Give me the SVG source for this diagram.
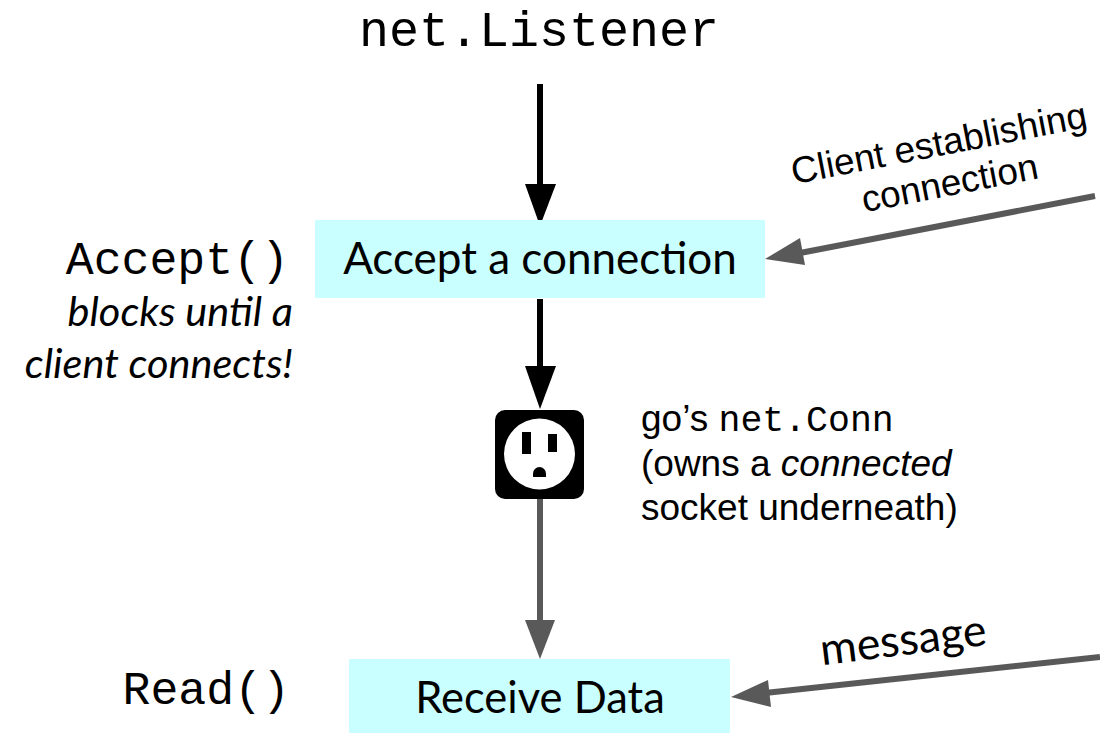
<svg xmlns="http://www.w3.org/2000/svg" width="1100" height="733" viewBox="0 0 1100 733">
<style>
.box{fill:#c9ffff}
.mono{font-family:"Liberation Mono","DejaVu Sans Mono",monospace;fill:#000}
.cal{font-family:Lato,"Open Sans",sans-serif;fill:#000}
.ar{font-family:"Liberation Sans",Arial,sans-serif;fill:#000;font-size:37px}
.k{stroke:#000;stroke-width:6;fill:none}
.g{stroke:#595959;stroke-width:6;fill:none}
.kh{fill:#000}.gh{fill:#595959}
</style>
<rect width="1100" height="733" fill="#fff"/>
<g id="connectors">
<path class="k" d="M540 84V190"/><path class="kh" d="M525 184H556L540 226Z"/>
<path class="k" d="M540 299V372"/><path class="kh" d="M525 366H556L540 409Z"/>
<path class="g" d="M540 497V625"/><path class="gh" d="M525 620H555L540 659Z"/>
<path class="g" d="M1095 196L800 253"/><path class="gh" d="M765 259L800 238L805 265Z"/>
<path class="g" d="M1100 657L765 693"/><path class="gh" d="M731 697L768 680L771 707Z"/>
</g>
<g id="listener"><text class="mono" x="539" y="46" font-size="50" text-anchor="middle">net.Listener</text></g>
<g id="accept-node"><rect class="box" x="315" y="220" width="450" height="78"/><text class="cal" x="540" y="274" font-size="44" text-anchor="middle">Accept a connection</text></g>
<g id="accept-label"><text class="mono" x="289" y="274" font-size="46.500" text-anchor="end">Accept()</text>
<text class="cal" x="293" y="326" font-size="41.500" font-style="italic" text-anchor="end">blocks until a</text>
<text class="cal" x="293" y="378" font-size="41.500" font-style="italic" text-anchor="end">client connects!</text></g>
<g id="client-label" transform="rotate(-11 940 165)"><text class="ar" x="943" y="156" text-anchor="middle">Client establishing</text><text class="ar" x="946" y="197" text-anchor="middle">connection</text></g>
<g id="socket"><rect x="495" y="410" width="89" height="89" rx="10" fill="#000"/><circle cx="539.500" cy="454" r="35.500" fill="#fff"/><rect x="522" y="432" width="9" height="22" fill="#000"/><rect x="548" y="434" width="9" height="18" fill="#000"/><path d="M533 477V473.500A6.500 6.500 0 0 1 546 473.500V477Z" fill="#000"/></g>
<g id="conn-label"><text class="ar" x="641" y="431">go’s <tspan class="mono" font-size="36.500">net.Conn</tspan></text><text class="ar" x="641" y="476">(owns a <tspan font-style="italic">connected</tspan></text><text class="ar" x="641" y="520">socket underneath)</text></g>
<g id="receive-node"><rect class="box" x="349" y="659" width="381" height="74"/><text class="cal" x="540" y="713" font-size="43.500" text-anchor="middle">Receive Data</text></g>
<g id="read-label"><text class="mono" x="290" y="704" font-size="46.500" text-anchor="end">Read()</text></g>
<g id="message-label"><text class="cal" x="905" y="655" font-size="44.500" text-anchor="middle" transform="rotate(-7 905 655)">message</text></g>
</svg>
